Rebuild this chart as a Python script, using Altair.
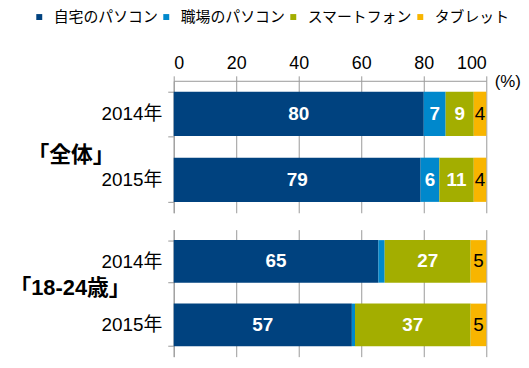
import altair as alt
import pandas as pd

groups = ["「全体」", "「全体」", "「18-24歳」", "「18-24歳」"]
years = ["2014年", "2015年", "2014年", "2015年"]
devices = ["自宅のパソコン", "職場のパソコン", "スマートフォン", "タブレット"]
home_pc = [80, 79, 65.5, 57]
work_pc = [7, 6, 2, 1]
smartphone = [9, 11, 27.5, 37]
tablet = [4, 4, 5, 5]
home_lbl = ["80", "79", "65", "57"]
work_lbl = ["7", "6", "", ""]
smart_lbl = ["9", "11", "27", "37"]
tab_lbl = ["4", "4", "5", "5"]
x_ticks = [0, 20, 40, 60, 80, 100]
colors = ["#00427f", "#0088cc", "#a3ae00", "#f8b500"]

series = [home_pc, work_pc, smartphone, tablet]
labels = [home_lbl, work_lbl, smart_lbl, tab_lbl]
rows = []
for i in range(len(years)):
    for k, d in enumerate(devices):
        rows.append({"group": groups[i], "year": years[i], "device": d,
                     "order": k, "value": series[k][i], "label": labels[k][i]})
df = pd.DataFrame(rows)

LAT = "Liberation Sans, Arial, Noto Sans CJK JP"
CJK = "Liberation Sans, Noto Sans CJK JP"


def panel(g, top, title_x, title_y, h):
    base = (alt.Chart(df)
            .transform_filter(alt.datum.group == g)
            .transform_stack(stack="value", groupby=["group", "year"],
                             sort=[alt.SortField("order")], as_=["v0", "v1"])
            .transform_calculate(mid="(datum.v0 + datum.v1) / 2"))
    y = alt.Y("year:N", sort=["2014年", "2015年"],
              scale=alt.Scale(paddingInner=0.33, paddingOuter=0.165),
              axis=alt.Axis(title=g, titleAngle=0, titleX=title_x, titleY=title_y,
                            titleAlign="center", titleBaseline="middle",
                            titleFont=CJK, titleFontSize=22, titleFontWeight="bold",
                            titleColor="black", labelFont=CJK, labelFontSize=19,
                            labelColor="black", labelPadding=6, domainColor="#999999",
                            tickColor="#999999", tickSize=6, tickBand="extent",
                            grid=False))
    if top:
        xaxis = alt.Axis(orient="top", values=x_ticks, title="(%)", titleX=323,
                         titleY=1, titleAlign="left", titleBaseline="middle",
                         titleFontWeight="normal", titleFontSize=17, titleFont=LAT,
                         titleColor="black", labelFontSize=18, labelFont=LAT,
                         labelColor="black", grid=True, gridColor="#999999",
                         domainColor="#999999", tickColor="#999999", tickSize=5,
                         labelPadding=3)
        legend = alt.Legend(title=None, orient="none", legendX=-143, legendY=-72,
                            direction="horizontal", symbolType="square",
                            symbolSize=36, symbolStrokeWidth=0, labelFontSize=15,
                            labelFont="Noto Sans CJK JP", labelColor="black",
                            labelOffset=7, columnPadding=0, padding=0, offset=0)
    else:
        xaxis = alt.Axis(orient="top", values=x_ticks, labels=False, domain=False,
                         ticks=False, grid=True, gridColor="#999999", title=None)
        legend = None
    x = alt.X("v0:Q", scale=alt.Scale(domain=[0, 100], nice=False), axis=xaxis)
    bars = base.mark_bar().encode(
        x=x, x2="v1:Q", y=y,
        color=alt.Color("device:N", sort=devices,
                        scale=alt.Scale(domain=devices, range=colors), legend=legend))
    txt_w = base.transform_filter(alt.datum.order < 3).mark_text(
        color="white", fontWeight="bold", fontSize=19, font=LAT).encode(
        x="mid:Q", y=alt.Y("year:N", sort=["2014年", "2015年"]), text="label:N")
    txt_b = base.transform_filter(alt.datum.order == 3).mark_text(
        color="black", fontSize=19, font=LAT).encode(
        x="mid:Q", y=alt.Y("year:N", sort=["2014年", "2015年"]), text="label:N")
    return alt.layer(bars, txt_w, txt_b).properties(width=315, height=h)


top = panel("「全体」", True, -104, 74, 133)
bottom = panel("「18-24歳」", False, -105, 58, 128)

chart = alt.vconcat(top, bottom, spacing=17, bounds="flush").properties(
    padding={"left": 0, "top": 0, "right": 0, "bottom": 0}
).configure_view(stroke=None)

chart.save("out.html", embed_options={"renderer": "svg", "actions": False})
